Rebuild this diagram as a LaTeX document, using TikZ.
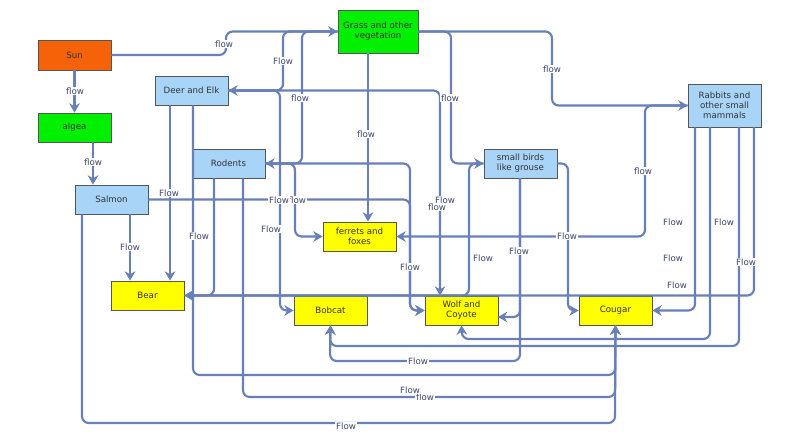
\documentclass[tikz,border=0pt]{standalone}
\usepackage{fontspec}
\setmainfont{DejaVu Sans}
\usetikzlibrary{arrows.meta}
\definecolor{lc}{RGB}{104,128,184}
\definecolor{borange}{RGB}{245,98,8}
\definecolor{bgreen}{RGB}{0,240,0}
\definecolor{bblue}{RGB}{168,212,248}
\definecolor{byellow}{RGB}{255,255,0}
\definecolor{txt}{RGB}{60,70,110}
\begin{document}
\begin{tikzpicture}[x=0.75pt,y=-0.75pt,
  box/.style={draw={rgb,255:red,85;green,85;blue,85},line width=0.6pt,inner sep=0pt,font=\fontsize{6.5}{7.5}\selectfont,text=black!80,align=center},
  fl/.style={draw=lc,line width=1.6pt,rounded corners=5,-{Stealth[length=7pt,width=8pt]}},
  lb/.style={fill=white,inner sep=0.8pt,text=txt,font=\fontsize{6.5}{7}\selectfont}]
\useasboundingbox (0,0) rectangle (800,441);
\node[box,fill=borange,minimum width=54.75pt,minimum height=22.5pt] (Sun) at (74.5,55) {Sun};
\node[box,fill=bgreen,minimum width=54.75pt,minimum height=21.75pt] (algea) at (74.5,127.5) {algea};
\node[box,fill=bblue,minimum width=54.75pt,minimum height=21.75pt] (Salmon) at (111.5,199.5) {Salmon};
\node[box,fill=byellow,minimum width=54.75pt,minimum height=21.75pt] (Bear) at (147.5,295.5) {Bear};
\node[box,fill=bblue,minimum width=54.75pt,minimum height=21.75pt] (Deer) at (191.5,90.5) {Deer and Elk};
\node[box,fill=bblue,minimum width=54.75pt,minimum height=21.75pt] (Rodents) at (228.5,163.5) {Rodents};
\node[box,fill=bgreen,minimum width=60pt,minimum height=32.25pt] (Grass) at (378,31.5) {Grass and other\\vegetation};
\node[box,fill=byellow,minimum width=54.75pt,minimum height=21.75pt] (ferrets) at (359.5,236.5) {ferrets and\\foxes};
\node[box,fill=bblue,minimum width=54.75pt,minimum height=21.75pt] (birds) at (520.5,163.5) {small birds\\like grouse};
\node[box,fill=bblue,minimum width=54.75pt,minimum height=32.25pt] (Rabbits) at (724.5,105.5) {Rabbits and\\other small\\mammals};
\node[box,fill=byellow,minimum width=54.75pt,minimum height=21.75pt] (Bobcat) at (330.5,310.5) {Bobcat};
\node[box,fill=byellow,minimum width=54.75pt,minimum height=21.75pt] (Wolf) at (461.5,310.5) {Wolf and\\Coyote};
\node[box,fill=byellow,minimum width=54.75pt,minimum height=21.75pt] (Cougar) at (615.5,310.5) {Cougar};

\begin{scope}[on background layer/.style={}]
\draw[fl] (Sun.east)--(226,55)--(226,31.5)--(Grass.west);
\draw[fl] (Sun.south)--(algea.north);
\draw[fl] (93,0|-algea.south)--(93,0|-Salmon.north);
\draw[fl] (130,0|-Salmon.south)--(130,0|-Bear.north);
\draw[fl] (170,0|-Deer.south)--(170,0|-Bear.north);
\draw[fl] (Grass.west)--(283,31.5)--(283,90.5)--(Deer.east);
\draw[fl] (Grass.west)--(302,31.5)--(302,163.5)--(Rodents.east);
\draw[fl] (368,0|-Grass.south)--(368,0|-ferrets.north);
\draw[fl] (Grass.east)--(552,31.5)--(552,105.5)--(Rabbits.west);
\draw[fl] (Grass.east)--(451,31.5)--(451,163.5)--(birds.west);
\draw[fl] (Deer.east)--(440,90.5)--(440,0|-Wolf.north);
\draw[fl] (Deer.east)--(280,90.5)--(280,310.5)--(Bobcat.west);
\draw[fl] (Rodents.east)--(295,163.5)--(295,236.5)--(ferrets.west);
\draw[fl] (Salmon.east)--(410,199.5)--(410,310.5)--(Wolf.west);
\draw[fl] (Rodents.east)--(410,163.5)--(410,310.5)--(Wolf.west);
\draw[fl] (birds.west)--(469,163.5)--(469,295.5)--(Bear.east);
\draw[fl] (754,0|-Rabbits.south)--(754,295.5)--(Bear.east);
\draw[fl] (214,0|-Rodents.south)--(214,295.5)--(Bear.east);
\draw[fl] (193,0|-Deer.south)--(193,375)--(615,375)--(Cougar.south);
\draw[fl] (243,0|-Rodents.south)--(243,397)--(615,397)--(Cougar.south);
\draw[fl] (82,0|-Salmon.south)--(82,423)--(615,423)--(Cougar.south);
\draw[fl] (520,0|-birds.south)--(520,361)--(330,361)--(Bobcat.south);
\draw[fl] (520,0|-birds.south)--(520,317)--(498,317);
\draw[fl] (739,0|-Rabbits.south)--(739,346)--(330,346)--(Bobcat.south);
\draw[fl] (710,0|-Rabbits.south)--(710,339)--(462,339)--(Wolf.south);
\draw[fl] (695,0|-Rabbits.south)--(695,310.5)--(Cougar.east);
\draw[fl] (Rabbits.west)--(645,105.5)--(645,236.5)--(ferrets.east);
\draw[fl] (birds.east)--(568,163.5)--(568,310.5)--(Cougar.west);
\end{scope}

\node[lb] (l1) at (224,44) {flow};
\node[lb] (l2) at (75,91) {flow};
\node[lb] (l3) at (93,162) {flow};
\node[lb] (l4) at (130,247) {Flow};
\node[lb] (l5) at (169,193) {Flow};
\node[lb] (l6) at (283,61) {Flow};
\node[lb] (l7) at (300,98) {flow};
\node[lb] (l8) at (366,134) {flow};
\node[lb] (l9) at (552,69) {flow};
\node[lb] (l10) at (450,98) {flow};
\node[lb] (l13) at (297,200) {flow};
\node[lb] (l14) at (279,200) {Flow};
\node[lb] (l11b) at (437,207) {flow};
\node[lb] (l11) at (445,200) {Flow};
\node[lb] (l12) at (271,229) {Flow};
\node[lb] (l15) at (410,267) {Flow};
\node[lb] (l16) at (483,258) {Flow};
\node[lb] (l17) at (746,262) {Flow};
\node[lb] (l17b) at (677,285) {Flow};
\node[lb] (l19) at (199,236) {Flow};
\node[lb] (l20b) at (425,397) {flow};
\node[lb] (l20) at (410,390) {Flow};
\node[lb] (l21) at (346,426) {Flow};
\node[lb] (l22) at (418,361) {Flow};
\node[lb] (l23) at (519,251) {Flow};
\node[lb] (l24) at (724,222) {Flow};
\node[lb] (l25) at (673,222) {Flow};
\node[lb] (l26) at (673,258) {Flow};
\node[lb] (l27) at (643,171) {flow};
\node[lb] (l27b) at (567,236) {Flow};
\end{tikzpicture}
\end{document}
